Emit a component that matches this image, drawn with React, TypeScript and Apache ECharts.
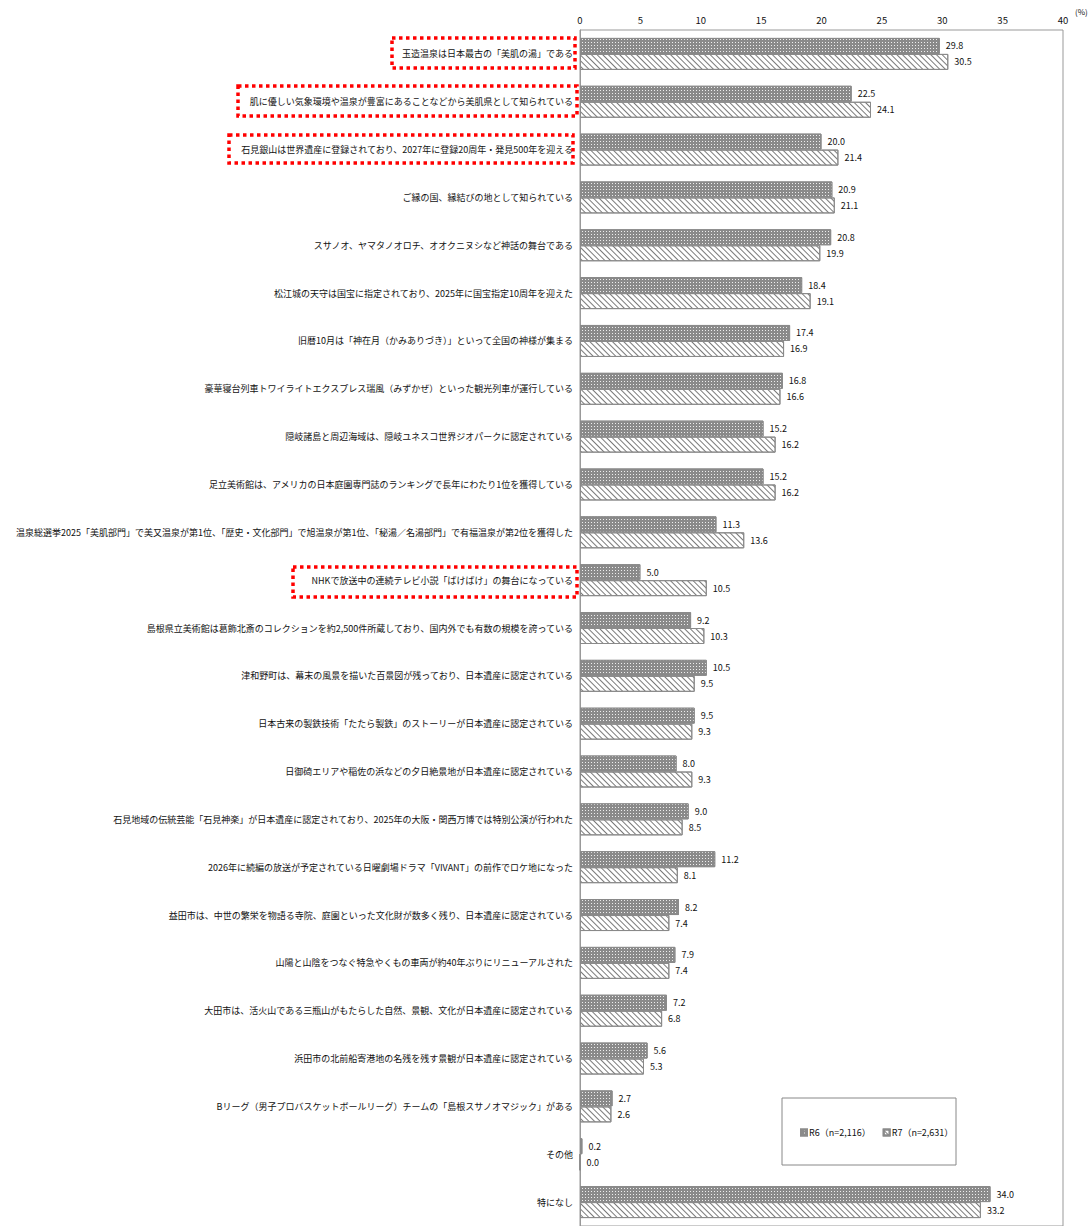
import React, { useEffect, useRef } from "react";
import * as echarts from "echarts";

const categories: string[] = [
  "玉造温泉は日本最古の「美肌の湯」である",
  "肌に優しい気象環境や温泉が豊富にあることなどから美肌県として知られている",
  "石見銀山は世界遺産に登録されており、2027年に登録20周年・発見500年を迎える",
  "ご縁の国、縁結びの地として知られている",
  "スサノオ、ヤマタノオロチ、オオクニヌシなど神話の舞台である",
  "松江城の天守は国宝に指定されており、2025年に国宝指定10周年を迎えた",
  "旧暦10月は「神在月（かみありづき）」といって全国の神様が集まる",
  "豪華寝台列車トワイライトエクスプレス瑞風（みずかぜ）といった観光列車が運行している",
  "隠岐諸島と周辺海域は、隠岐ユネスコ世界ジオパークに認定されている",
  "足立美術館は、アメリカの日本庭園専門誌のランキングで長年にわたり1位を獲得している",
  "温泉総選挙2025「美肌部門」で美又温泉が第1位、「歴史・文化部門」で旭温泉が第1位、「秘湯／名湯部門」で有福温泉が第2位を獲得した",
  "NHKで放送中の連続テレビ小説「ばけばけ」の舞台になっている",
  "島根県立美術館は葛飾北斎のコレクションを約2,500件所蔵しており、国内外でも有数の規模を誇っている",
  "津和野町は、幕末の風景を描いた百景図が残っており、日本遺産に認定されている",
  "日本古来の製鉄技術「たたら製鉄」のストーリーが日本遺産に認定されている",
  "日御碕エリアや稲佐の浜などの夕日絶景地が日本遺産に認定されている",
  "石見地域の伝統芸能「石見神楽」が日本遺産に認定されており、2025年の大阪・関西万博では特別公演が行われた",
  "2026年に続編の放送が予定されている日曜劇場ドラマ「VIVANT」の前作でロケ地になった",
  "益田市は、中世の繁栄を物語る寺院、庭園といった文化財が数多く残り、日本遺産に認定されている",
  "山陽と山陰をつなぐ特急やくもの車両が約40年ぶりにリニューアルされた",
  "大田市は、活火山である三瓶山がもたらした自然、景観、文化が日本遺産に認定されている",
  "浜田市の北前船寄港地の名残を残す景観が日本遺産に認定されている",
  "Bリーグ（男子プロバスケットボールリーグ）チームの「島根スサノオマジック」がある",
  "その他",
  "特になし",
];

const r6Values: number[] = [
  29.8, 22.5, 20.0, 20.9, 20.8, 18.4, 17.4, 16.8, 15.2, 15.2, 11.3, 5.0, 9.2,
  10.5, 9.5, 8.0, 9.0, 11.2, 8.2, 7.9, 7.2, 5.6, 2.7, 0.2, 34.0,
];
const r7Values: number[] = [
  30.5, 24.1, 21.4, 21.1, 19.9, 19.1, 16.9, 16.6, 16.2, 16.2, 13.6, 10.5, 10.3,
  9.5, 9.3, 9.3, 8.5, 8.1, 7.4, 7.4, 6.8, 5.3, 2.6, 0.0, 33.2,
];

const seriesNames: string[] = ["R6（n=2,116）", "R7（n=2,631）"];
const xTicks = { min: 0, max: 40, interval: 5 };

const FONT = "'Noto Sans CJK JP', 'Noto Sans', sans-serif";

export default function App() {
  const ref = useRef<HTMLDivElement>(null);

  useEffect(() => {
    if (!ref.current) return;
    const chart = echarts.init(ref.current, undefined, { renderer: "svg" });

    const redBox = (x: number, y: number, w: number, h: number) => ({
      type: "rect",
      shape: { x, y, width: w, height: h },
      style: { fill: "none", stroke: "#ff0000", lineWidth: 3.5, lineDash: [3.5, 3.5] },
      z: 20,
      silent: true,
    });

    const labelStyle = {
      show: true,
      position: "right",
      distance: 6,
      fontSize: 9,
      color: "#111",
      fontFamily: FONT,
      formatter: (p: any) => Number(p.value).toFixed(1),
    };

    chart.setOption({
      animation: false,
      textStyle: { fontFamily: FONT },
      grid: {
        left: 580,
        top: 30,
        width: 483,
        height: 1200,
        show: true,
        borderColor: "#999",
        borderWidth: 1,
        backgroundColor: "transparent",
      },
      xAxis: {
        type: "value",
        position: "top",
        min: xTicks.min,
        max: xTicks.max,
        interval: xTicks.interval,
        axisLine: { show: false },
        axisTick: { show: false },
        splitLine: { show: false },
        axisLabel: { fontSize: 9.5, color: "#111", margin: 5, fontFamily: FONT },
      },
      yAxis: {
        type: "category",
        inverse: true,
        data: categories,
        axisLine: { show: true, lineStyle: { color: "#999", width: 1 } },
        axisTick: { show: false },
        axisLabel: { fontSize: 9, color: "#111", margin: 7, fontFamily: FONT },
      },
      legend: {
        data: seriesNames,
        left: 800,
        top: 1128,
        padding: 0,
        itemWidth: 6,
        itemHeight: 6,
        itemGap: 12,
        icon: "rect",
        textStyle: { fontSize: 9, color: "#111", fontFamily: FONT, padding: [0, 0, 0, -3] },
        z: 30,
      },
      series: [
        {
          name: seriesNames[0],
          type: "bar",
          data: r6Values,
          barWidth: 16,
          barGap: "0%",
          itemStyle: {
            color: "#8a8a8a",
            borderColor: "#8a8a8a",
            borderWidth: 1,
            decal: {
              symbol: "rect",
              symbolSize: 1,
              dashArrayX: [1, 2],
              dashArrayY: [1, 2],
              color: "rgba(255,255,255,0.85)",
              backgroundColor: "#8a8a8a",
            },
          },
          label: labelStyle,
        },
        {
          name: seriesNames[1],
          type: "bar",
          data: r7Values,
          barWidth: 16,
          barGap: "0%",
          itemStyle: {
            color: "#ffffff",
            borderColor: "#8a8a8a",
            borderWidth: 1,
            decal: {
              symbol: "rect",
              symbolSize: 1,
              dashArrayX: [1, 0],
              dashArrayY: [1, 3],
              rotation: Math.PI / 4,
              color: "#7a7a7a",
              backgroundColor: "#ffffff",
            },
          },
          label: labelStyle,
        },
      ],
      graphic: [
        {
          type: "text",
          left: 1075,
          top: 7,
          style: { text: "(%)", fontSize: 8, fill: "#111", fontFamily: FONT },
        },
        {
          type: "rect",
          shape: { x: 782, y: 1098, width: 174, height: 67 },
          style: { fill: "#ffffff", stroke: "#888", lineWidth: 1 },
          z: 10,
          silent: true,
        },
        redBox(392, 38, 183, 30),
        redBox(238, 86, 339, 30),
        redBox(229, 135, 344, 28),
        redBox(293, 567, 284, 30),
      ],
    });

    return () => chart.dispose();
  }, []);

  return (
    <div
      ref={ref}
      style={{ position: "absolute", left: 0, top: 0, width: 1091, height: 1226 }}
    />
  );
}
